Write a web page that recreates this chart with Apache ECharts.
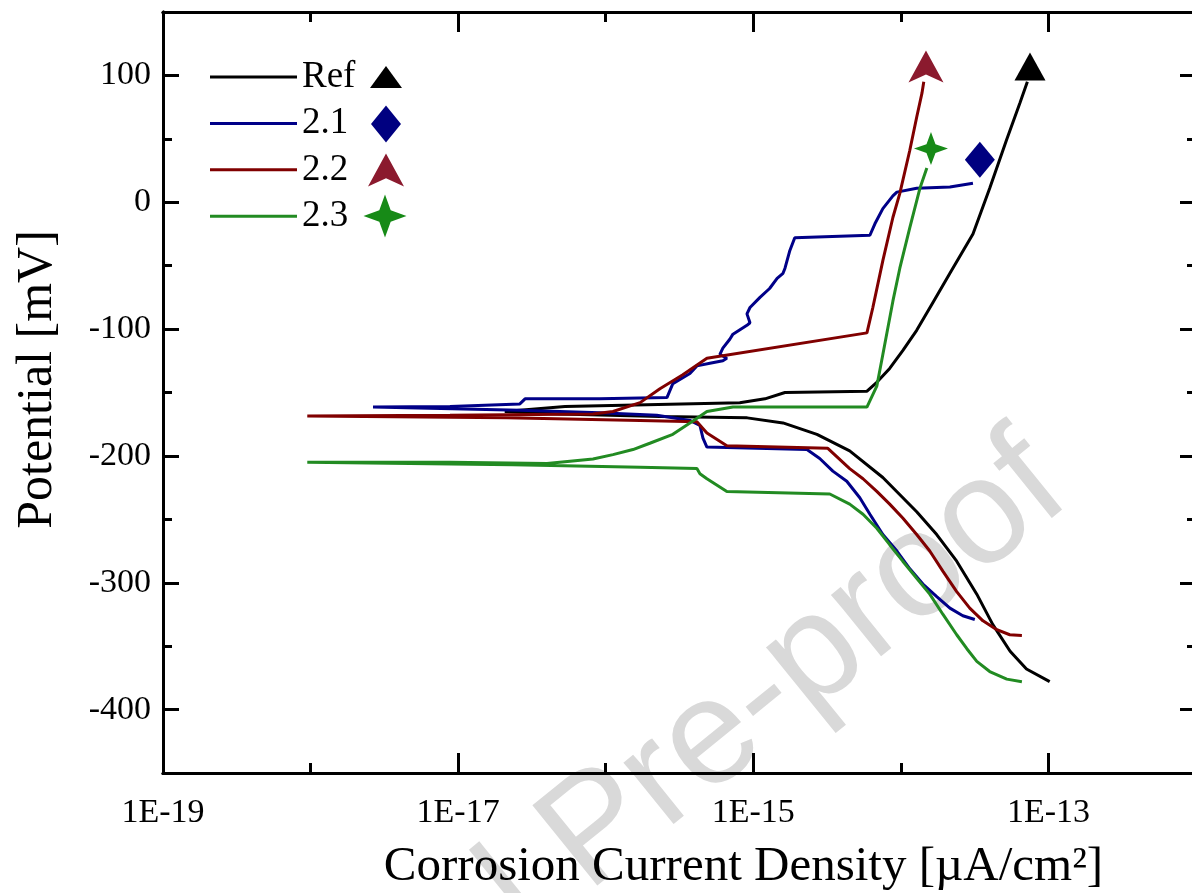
<!DOCTYPE html>
<html>
<head>
<meta charset="utf-8">
<script src="https://cdn.jsdelivr.net/npm/echarts@6.0.0/dist/echarts.min.js"></script>
<style>
html, body { margin: 0; padding: 0; background: #fff; overflow: hidden; }
#chart { width: 1192px; height: 893px; }
</style>
</head>
<body>
<div id="chart"></div>
<script>
// [current density µA/cm², potential mV], cathodic end first, then anodic
const refCurve = [
  [1.02e-13, -378], [7.1e-14, -368], [5.5e-14, -354], [4.2e-14, -333], [3.27e-14, -309],
  [2.39e-14, -283], [1.75e-14, -262], [1.28e-14, -244], [7.55e-15, -217], [4.5e-15, -196],
  [2.7e-15, -183], [1.59e-15, -174], [9.1e-16, -170], [2.33e-16, -169], [4.9e-17, -167],
  [2.07e-17, -165], [5.3e-17, -161], [8.1e-16, -158], [1.2e-15, -155], [1.64e-15, -150],
  [5.9e-15, -149], [6.87e-15, -142], [8.4e-15, -131], [1.03e-14, -117], [1.28e-14, -101],
  [1.65e-14, -79], [2.15e-14, -56], [3.08e-14, -25], [4.0e-14, 11], [5.2e-14, 49],
  [6.4e-14, 78], [7.2e-14, 95]
];
const curve21 = [
  [3.17e-14, -329], [2.63e-14, -326], [2.15e-14, -320], [1.75e-14, -311], [1.41e-14, -301],
  [1.15e-14, -289], [9.4e-15, -275], [7.55e-15, -262], [6.17e-15, -246], [5.27e-15, -233],
  [4.3e-15, -220], [3.46e-15, -212], [2.82e-15, -202], [2.31e-15, -195], [4.85e-16, -193],
  [4.56e-16, -186], [4.35e-16, -176], [3.72e-16, -172], [2.22e-16, -168], [9.1e-17, -166],
  [2.62e-17, -164], [2.65e-18, -161.5], [8.8e-18, -161], [2.62e-17, -159], [2.84e-17, -155],
  [9.1e-17, -155], [2.6e-16, -154], [2.85e-16, -143], [3.72e-16, -135], [4.15e-16, -129],
  [5.08e-16, -127], [6.22e-16, -125], [6.62e-16, -123], [5.94e-16, -120], [6.22e-16, -115],
  [6.93e-16, -108], [7.28e-16, -104], [9.06e-16, -97], [9.5e-16, -95], [9.06e-16, -88],
  [9.5e-16, -83], [1.11e-15, -75], [1.29e-15, -68], [1.45e-15, -60], [1.59e-15, -56],
  [1.64e-15, -52], [1.77e-15, -38], [1.91e-15, -28], [6.17e-15, -26], [6.67e-15, -17],
  [7.55e-15, -5], [8.83e-15, 5], [9.4e-15, 8], [1.28e-14, 11], [2.15e-14, 12], [3.08e-14, 15]
];
const curve22 = [
  [6.61e-14, -341.5], [5.47e-14, -341], [4.47e-14, -337], [3.6e-14, -330], [2.93e-14, -320],
  [2.39e-14, -307], [1.93e-14, -291], [1.57e-14, -275], [1.28e-14, -262], [1.03e-14, -249],
  [8.4e-15, -238], [6.87e-15, -228], [5.54e-15, -218], [4.5e-15, -210], [3.2e-15, -194],
  [6.62e-16, -192], [4.85e-16, -182], [4.15e-16, -173], [1.71e-16, -172], [2.14e-17, -170],
  [9.5e-19, -168.6], [8.8e-18, -168], [8.2e-17, -167], [1.12e-16, -165], [1.71e-16, -158],
  [2.33e-16, -147], [3.33e-16, -136], [4.85e-16, -123], [5.89e-15, -103], [6.46e-15, -83],
  [7.55e-15, -46], [8.83e-15, -12], [9.84e-15, 7], [1.15e-14, 41], [1.28e-14, 67],
  [1.39e-14, 86], [1.43e-14, 95]
];
const curve23 = [
  [6.61e-14, -378], [5.22e-14, -376], [4.0e-14, -370], [3.27e-14, -362], [2.8e-14, -352],
  [2.39e-14, -341], [1.93e-14, -325], [1.57e-14, -309], [1.28e-14, -296.5], [1.03e-14, -283],
  [8.4e-15, -270], [6.87e-15, -257], [5.54e-15, -246], [4.5e-15, -238], [3.3e-15, -230],
  [6.62e-16, -228], [4.85e-16, -218], [4.35e-16, -214], [4.15e-16, -210], [1.71e-16, -209],
  [2.35e-17, -207], [9.5e-19, -205], [8.8e-18, -205], [4.0e-17, -206], [8.2e-17, -202.5],
  [1.12e-16, -199], [1.53e-16, -195], [1.99e-16, -190], [2.85e-16, -183], [3.9e-16, -172.5],
  [4.85e-16, -165], [7.28e-16, -161.5], [5.89e-15, -161.5], [6.87e-15, -145], [7.55e-15, -120],
  [8.83e-15, -78], [9.84e-15, -52], [1.15e-14, -20], [1.35e-14, 11.5], [1.5e-14, 27]
];

// end-point markers
const refMarker = [[7.5e-14, 107]];
const marker21 = [[3.43e-14, 33.6]];
const marker22 = [[1.48e-14, 107]];
const marker23 = [[1.6e-14, 42.3]];

const seriesNames = ['Ref', '2.1', '2.2', '2.3'];
const xMajorTicks = [1e-19, 1e-17, 1e-15, 1e-13];
const xMinorTicks = [1e-18, 1e-16, 1e-14];
const yMajorTicks = [-400, -300, -200, -100, 0, 100];
const yMinorTicks = [-350, -250, -150, -50, 50];

const serif = '"Liberation Serif", "Times New Roman", serif';
const lineColors = ['#000000', '#000088', '#800000', '#228b22'];
const markerColors = ['#000000', '#000080', '#8b1a2e', '#178a17'];
const arrowPath = 'path://M0,0 L17.5,32 L0,24 L-17.5,32 Z';
const starPath = 'path://M0,-17 L4.5,-4.5 L17,0 L4.5,4.5 L0,17 L-4.5,4.5 L-17,0 L-4.5,-4.5 Z';
const markerSymbols = [
  { symbol: 'triangle', size: [31, 28], legendSize: [32, 22] },
  { symbol: 'diamond', size: [30, 36], legendSize: [30, 37] },
  { symbol: arrowPath, size: [35, 32], legendSize: [36, 33] },
  { symbol: starPath, size: [34, 33], legendSize: [45, 43] }
];
const legendRows = [77, 124, 170, 216];

function xAxisDef(position, ticks, len, withLabels) {
  return {
    type: 'log', logBase: 10, min: 1e-19, max: 1e-12, position: position,
    axisLine: { show: true, onZero: false, lineStyle: { color: '#000', width: 3 } },
    axisTick: { show: true, inside: true, length: len, customValues: ticks,
      lineStyle: { color: '#000', width: 3 } },
    axisLabel: withLabels ? {
      show: true, customValues: ticks, margin: 23, color: '#000',
      fontFamily: serif, fontSize: 34,
      formatter: v => '1E' + Math.round(Math.log10(v))
    } : { show: false },
    name: withLabels ? 'Corrosion Current Density [\u00b5A/cm\u00b2]' : '',
    nameLocation: 'middle', nameGap: 70,
    nameTextStyle: { fontFamily: serif, fontSize: 49, color: '#000', padding: [0, 0, 0, 128] },
    splitLine: { show: false }, minorTick: { show: false }
  };
}

function yAxisDef(position, ticks, len, withLabels) {
  return {
    type: 'value', min: -450, max: 150, position: position,
    axisLine: { show: true, onZero: false, lineStyle: { color: '#000', width: 3 } },
    axisTick: { show: true, inside: true, length: len, customValues: ticks,
      lineStyle: { color: '#000', width: 3 } },
    axisLabel: withLabels ? {
      show: true, customValues: ticks, margin: 12, color: '#000',
      fontFamily: serif, fontSize: 34
    } : { show: false },
    name: withLabels ? 'Potential [mV]' : '',
    nameLocation: 'middle', nameGap: 100, nameRotate: 90,
    nameTextStyle: { fontFamily: serif, fontSize: 50, color: '#000', padding: [0, 0, 0, 26] },
    splitLine: { show: false }, minorTick: { show: false }
  };
}

const curves = [refCurve, curve21, curve22, curve23];
const markers = [refMarker, marker21, marker22, marker23];

const series = [];
curves.forEach((c, i) => {
  series.push({
    name: seriesNames[i], type: 'line', data: c, symbol: 'none', showSymbol: false,
    xAxisIndex: 0, yAxisIndex: 0, animation: false, z: 3,
    lineStyle: { color: lineColors[i], width: 3 }, itemStyle: { color: lineColors[i] }
  });
});
markers.forEach((m, i) => {
  series.push({
    name: seriesNames[i] + ' marker', type: 'scatter', data: m,
    symbol: markerSymbols[i].symbol, symbolSize: markerSymbols[i].size,
    xAxisIndex: 0, yAxisIndex: 0, animation: false, z: 4,
    itemStyle: { color: markerColors[i], opacity: 1 }
  });
});

const legends = [{
  data: seriesNames, orient: 'vertical', left: 210, top: legendRows[0] - 20,
  padding: 0, icon: 'rect', itemWidth: 87, itemHeight: 3, itemGap: 6.4, selectedMode: false,
  textStyle: { fontFamily: serif, fontSize: 37, color: '#000', lineHeight: 40 }
}];
markers.forEach((m, i) => {
  const sz = markerSymbols[i].legendSize;
  legends.push({
    data: [seriesNames[i] + ' marker'], orient: 'vertical',
    left: 386 - sz[0] / 2, top: legendRows[i] - sz[1] / 2,
    padding: 0, itemWidth: sz[0], itemHeight: sz[1], selectedMode: false,
    formatter: () => '', textStyle: { fontSize: 1, lineHeight: 1 }
  });
});

const chart = echarts.init(document.getElementById('chart'), null, { renderer: 'canvas' });
chart.setOption({
  backgroundColor: '#fff',
  animation: false,
  grid: { left: 163, right: -4, top: 12, bottom: 120, containLabel: false, outerBoundsMode: 'none' },
  xAxis: [
    xAxisDef('bottom', xMajorTicks, 20, true),
    xAxisDef('bottom', xMinorTicks, 10, false),
    xAxisDef('top', xMajorTicks, 20, false),
    xAxisDef('top', xMinorTicks, 10, false)
  ],
  yAxis: [
    yAxisDef('left', yMajorTicks, 16, true),
    yAxisDef('left', yMinorTicks, 9, false),
    yAxisDef('right', yMajorTicks, 16, false),
    yAxisDef('right', yMinorTicks, 9, false)
  ],
  legend: legends,
  graphic: [{
    type: 'text', x: 1048, y: 468, rotation: 0.68, z: -1, silent: true,
    style: { text: 'Journal Pre-proof', fontFamily: '"Liberation Sans", Arial, sans-serif',
      fontSize: 150, fill: '#d9d9d9', align: 'right', verticalAlign: 'middle' }
  }],
  series: series
});
</script>
</body>
</html>
